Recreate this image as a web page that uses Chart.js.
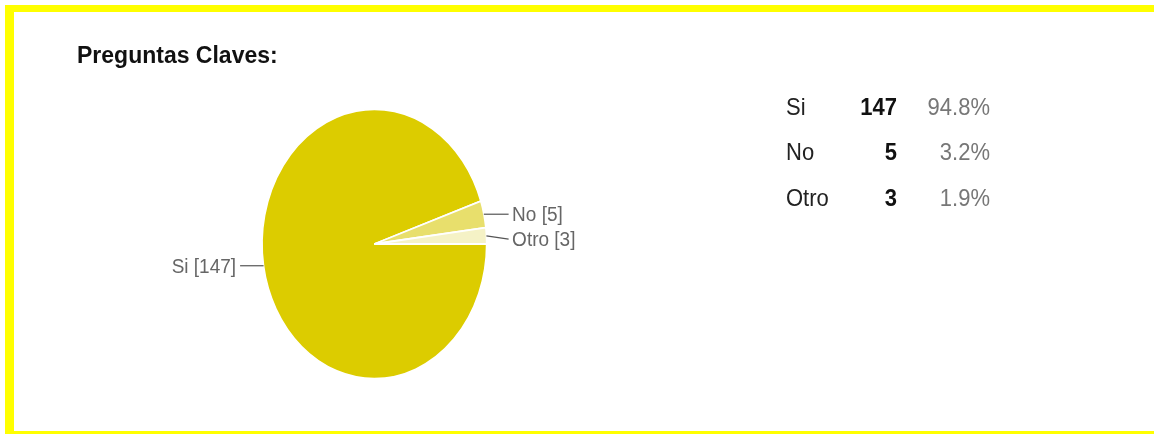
<!DOCTYPE html>
<html><head><meta charset="utf-8">
<script src="https://cdn.jsdelivr.net/npm/chart.js@4"></script>
<style>
html,body{margin:0;padding:0;background:#fff;}
#wrap{position:relative;width:1154px;height:434px;overflow:hidden;background:#fff;}
.b{position:absolute;background:#ffff00;}
canvas{position:absolute;left:0;top:0;}
</style></head><body>
<div id="wrap">
<canvas id="c" width="1154" height="434"></canvas>
<div class="b" style="left:5px;top:5px;width:1149px;height:7px"></div>
<div class="b" style="left:5px;top:5px;width:9px;height:429px"></div>
<div class="b" style="left:5px;top:431px;width:1149px;height:3px"></div>
</div>
<script>
const chartTitle = 'Preguntas Claves:';
const categories = ['Si', 'No', 'Otro'];
const counts = [147, 5, 3];
const sliceColors = ['#dccc00', '#e8df6c', '#f5f2c6'];

const FONT = '"Liberation Sans", Arial, Helvetica, sans-serif';
const STRETCH_Y = 1.2;
const total = counts.reduce((a, b) => a + b, 0);
const percents = counts.map(v => (v / total * 100).toFixed(1) + '%');

const ellipsePlugin = {
  id: 'ellipse',
  beforeDatasetsDraw(chart) {
    const a = chart.chartArea, ctx = chart.ctx;
    const cx = (a.left + a.right) / 2, cy = (a.top + a.bottom) / 2;
    ctx.save();
    ctx.translate(cx, cy);
    ctx.scale(1, STRETCH_Y);
    ctx.translate(-cx, -cy);
  },
  afterDatasetsDraw(chart) {
    chart.ctx.restore();
  }
};

function tallText(ctx, text, x, y, sy) {
  ctx.save();
  ctx.translate(x, y);
  ctx.scale(1, sy);
  ctx.fillText(text, 0, 0);
  ctx.restore();
}

const labelsPlugin = {
  id: 'extras',
  afterDraw(chart) {
    const ctx = chart.ctx;
    const meta = chart.getDatasetMeta(0);
    // Title
    ctx.save();
    ctx.fillStyle = '#111';
    ctx.font = 'bold 23px ' + FONT;
    ctx.textBaseline = 'alphabetic';
    ctx.textAlign = 'left';
    ctx.fillText(chartTitle, 77, 63);

    // Slice labels with leader lines
    const items = meta.data.map((arc, i) => {
      const p = arc.getProps(['x', 'y', 'startAngle', 'endAngle', 'outerRadius'], true);
      const mid = (p.startAngle + p.endAngle) / 2;
      const ax = p.x + p.outerRadius * Math.cos(mid);
      const ay = p.y + STRETCH_Y * p.outerRadius * Math.sin(mid);
      const right = Math.cos(mid) >= 0;
      return {i, ax, ay, right, cx: p.x, r: p.outerRadius, ly: ay};
    });
    const rightItems = items.filter(d => d.right).sort((a, b) => a.ay - b.ay);
    for (let k = 1; k < rightItems.length; k++) {
      rightItems[k].ly = Math.max(rightItems[k].ay, rightItems[k - 1].ly + 25);
    }
    const leftItems = items.filter(d => !d.right).sort((a, b) => a.ay - b.ay);
    for (let k = 1; k < leftItems.length; k++) {
      leftItems[k].ly = Math.max(leftItems[k].ay, leftItems[k - 1].ly + 25);
    }
    ctx.font = '19px ' + FONT;
    ctx.textBaseline = 'middle';
    items.forEach(d => {
      const lineEnd = d.right ? d.cx + d.r + 22 : d.cx - d.r - 22;
      const textX = d.right ? d.cx + d.r + 25.5 : d.cx - d.r - 26;
      ctx.strokeStyle = '#555';
      ctx.lineWidth = 1.2;
      ctx.beginPath();
      ctx.moveTo(d.ax, d.ay);
      ctx.lineTo(lineEnd, d.ly);
      ctx.stroke();
      ctx.fillStyle = '#666';
      ctx.textAlign = d.right ? 'left' : 'right';
      tallText(ctx, categories[d.i] + ' [' + counts[d.i] + ']', textX, d.ly + 1.5, 1.06);
    });

    // Summary table
    ctx.textBaseline = 'alphabetic';
    categories.forEach((c, i) => {
      const y = 114.5 + i * 45.5;
      ctx.font = '22px ' + FONT;
      ctx.fillStyle = '#222';
      ctx.textAlign = 'left';
      tallText(ctx, c, 786, y, 1.12);
      ctx.font = 'bold 22px ' + FONT;
      ctx.fillStyle = '#111';
      ctx.textAlign = 'right';
      tallText(ctx, String(counts[i]), 897, y, 1.12);
      ctx.font = '22px ' + FONT;
      ctx.fillStyle = '#777';
      tallText(ctx, percents[i], 990, y, 1.12);
    });
    ctx.restore();
  }
};

new Chart(document.getElementById('c'), {
  type: 'pie',
  data: {
    labels: categories,
    datasets: [{
      data: counts,
      backgroundColor: sliceColors,
      borderColor: '#ffffff',
      borderWidth: 1.5
    }]
  },
  options: {
    responsive: false,
    devicePixelRatio: 1,
    animation: false,
    rotation: 90,
    layout: { padding: { left: 261.3, right: 666.6, top: 131, bottom: 77 } },
    plugins: {
      legend: { display: false },
      tooltip: { enabled: false },
      title: { display: false }
    },
    events: []
  },
  plugins: [ellipsePlugin, labelsPlugin]
});
</script>
</body></html>
